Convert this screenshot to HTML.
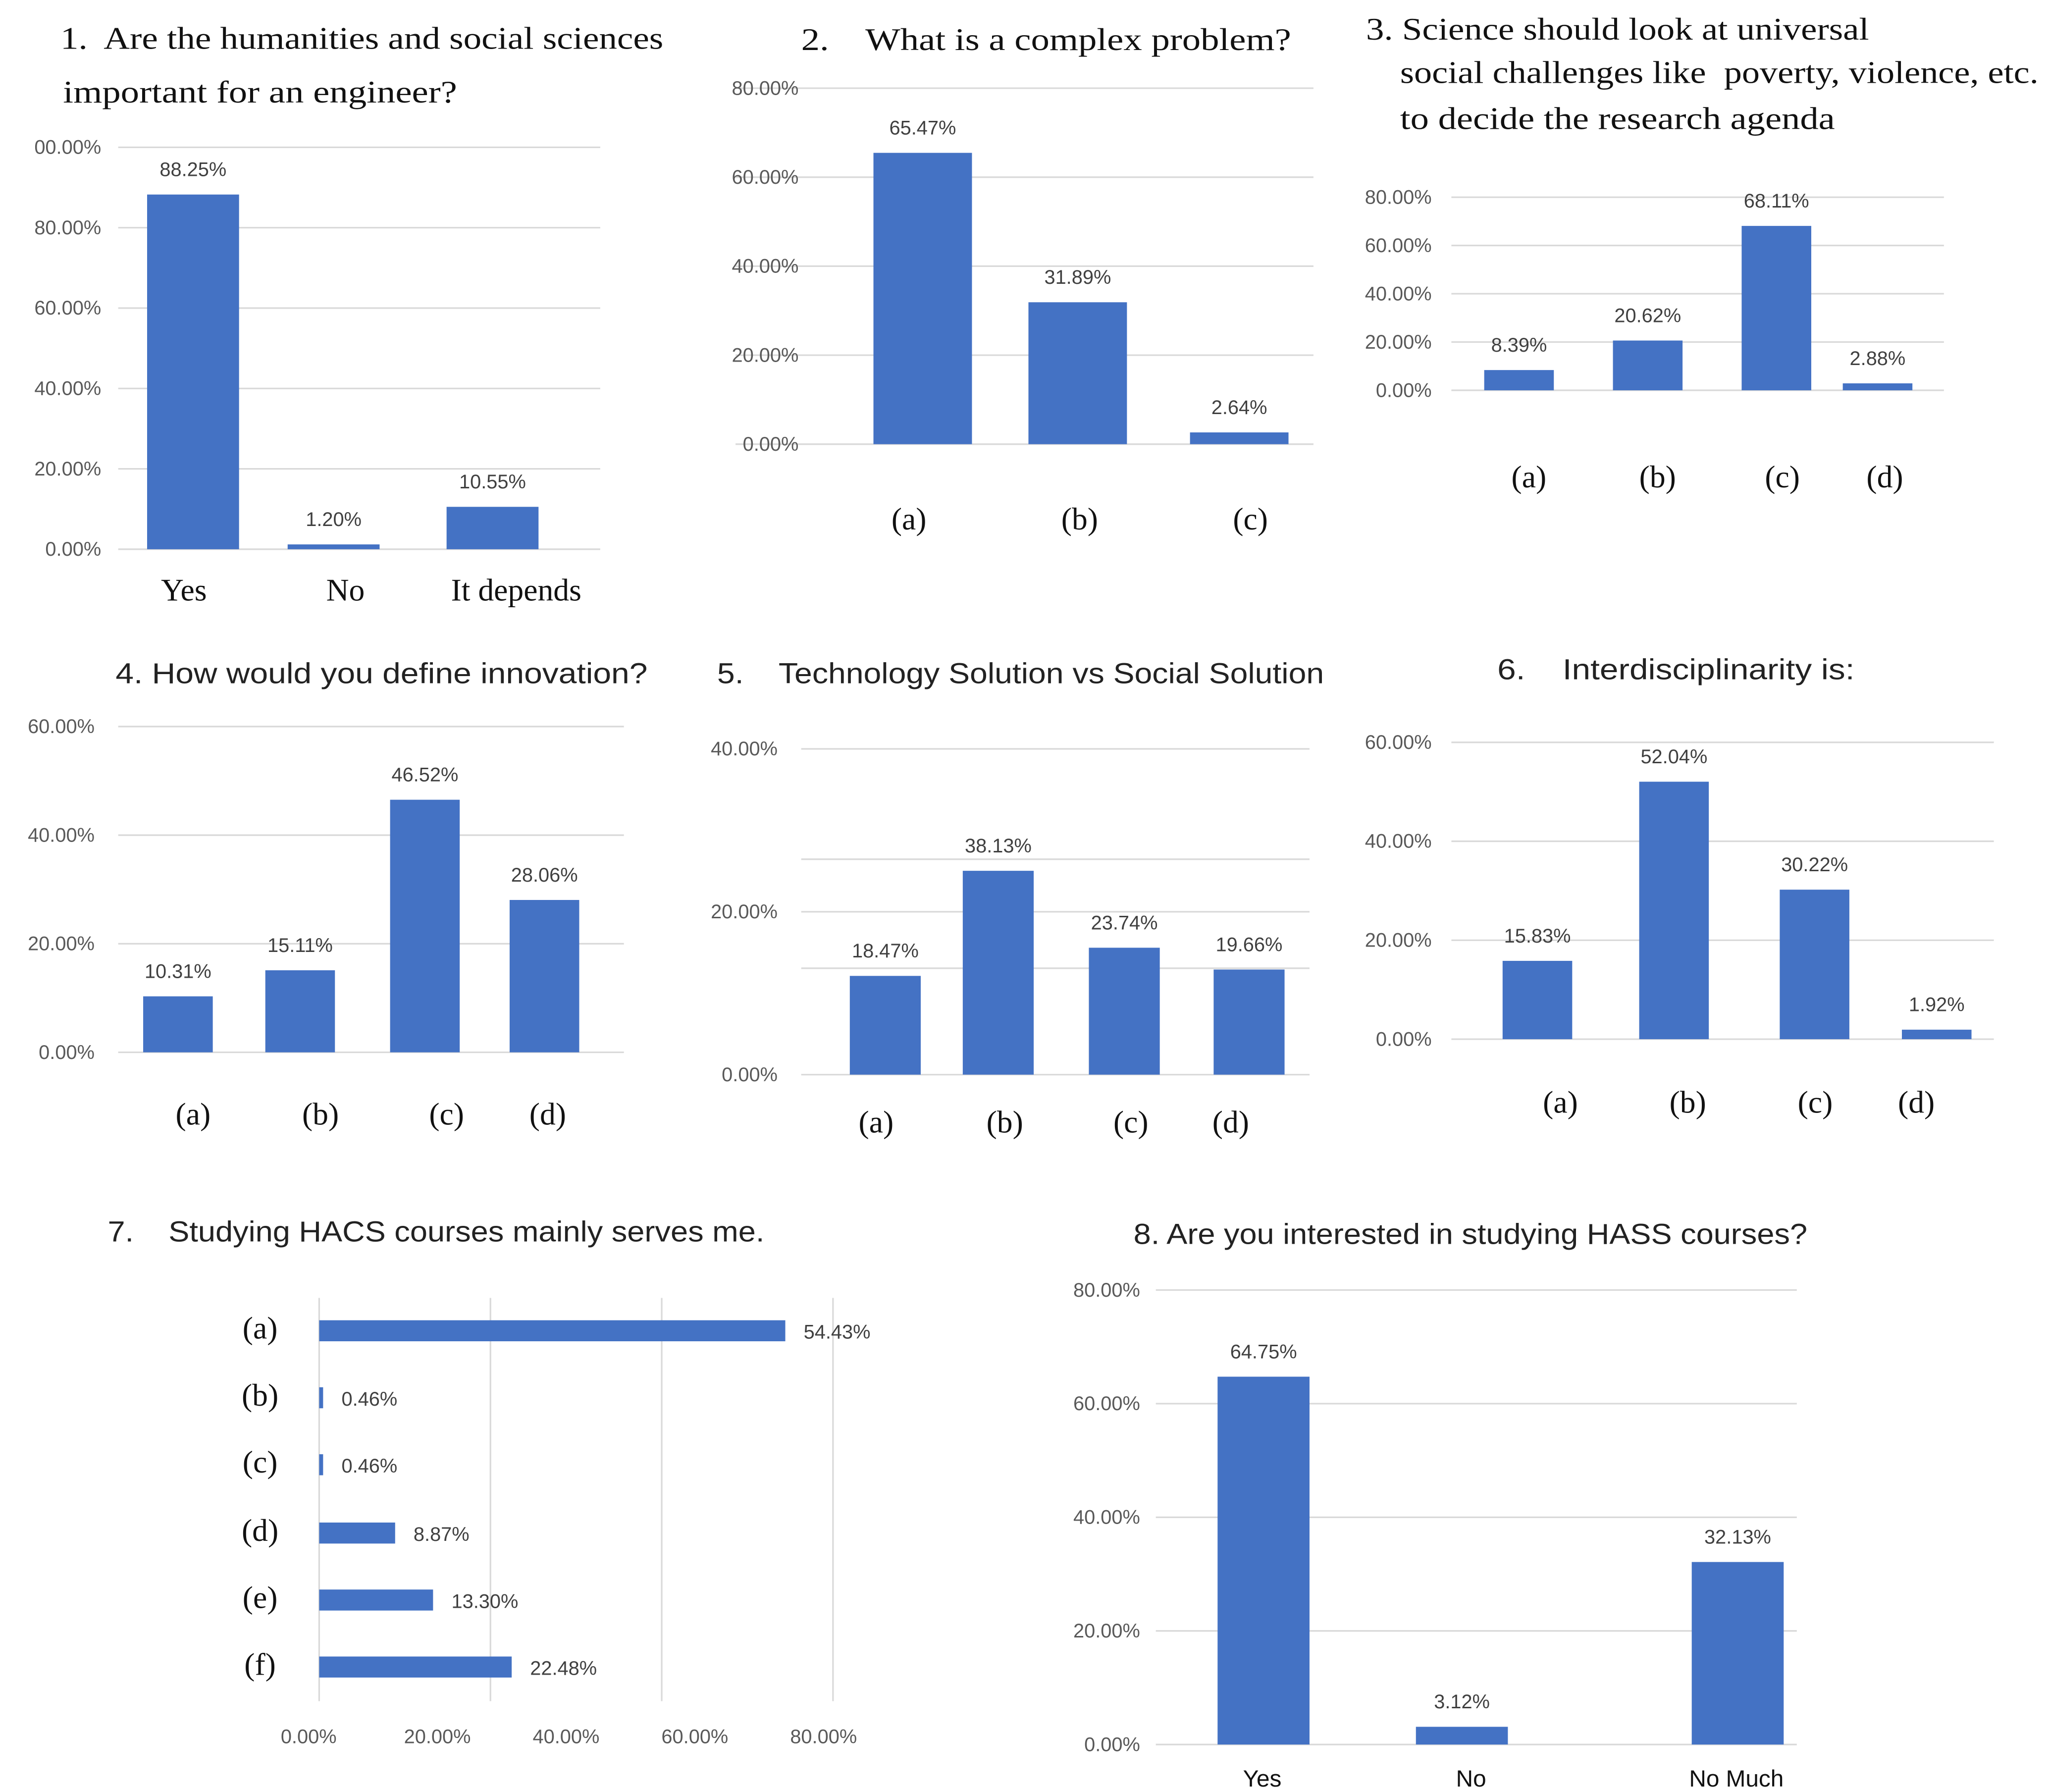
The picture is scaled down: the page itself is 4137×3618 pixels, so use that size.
<!DOCTYPE html>
<html><head><meta charset="utf-8"><title>Survey charts</title>
<style>
html,body{margin:0;padding:0;background:#fff;}
svg{display:block;}
.serif{font-family:"Liberation Serif",serif;fill:#111;}
.sans{font-family:"Liberation Sans",sans-serif;}
.ttl{white-space:pre;}
.tick{font-family:"Liberation Sans",sans-serif;font-size:15px;fill:#595959;}
.val{font-family:"Liberation Sans",sans-serif;font-size:15px;fill:#404040;}
</style></head>
<body>
<svg id="root" width="4137" height="3618" viewBox="0 0 1560 1364" xmlns="http://www.w3.org/2000/svg">
<rect width="1560" height="1364" fill="#fff"/>
<g>
<text class="serif ttl" x="46" y="37" font-size="24" textLength="459" lengthAdjust="spacingAndGlyphs">1.  Are the humanities and social sciences</text>
<text class="serif ttl" x="48" y="78" font-size="24" textLength="300" lengthAdjust="spacingAndGlyphs">important for an engineer?</text>
<text class="serif ttl" x="610" y="38" font-size="24" textLength="373" lengthAdjust="spacingAndGlyphs">2.    What is a complex problem?</text>
<text class="serif ttl" x="1040" y="30" font-size="24" textLength="383" lengthAdjust="spacingAndGlyphs">3. Science should look at universal</text>
<text class="serif ttl" x="1066" y="63" font-size="24" textLength="486" lengthAdjust="spacingAndGlyphs">social challenges like  poverty, violence, etc.</text>
<text class="serif ttl" x="1066" y="98" font-size="24" textLength="331" lengthAdjust="spacingAndGlyphs">to decide the research agenda</text>
<text class="sans ttl" x="88" y="520" font-size="22" fill="#222" textLength="405" lengthAdjust="spacingAndGlyphs">4. How would you define innovation?</text>
<text class="sans ttl" x="546" y="520" font-size="22" fill="#222" textLength="462" lengthAdjust="spacingAndGlyphs">5.    Technology Solution vs Social Solution</text>
<text class="sans ttl" x="1140" y="517" font-size="22" fill="#222" textLength="272" lengthAdjust="spacingAndGlyphs">6.    Interdisciplinarity is:</text>
<text class="sans ttl" x="82" y="945" font-size="22" fill="#222" textLength="500" lengthAdjust="spacingAndGlyphs">7.    Studying HACS courses mainly serves me.</text>
<text class="sans ttl" x="863" y="947" font-size="22" fill="#222" textLength="513" lengthAdjust="spacingAndGlyphs">8. Are you interested in studying HASS courses?</text>
</g>
</svg>
<script>
// ---- data ----
const c1Cats = ["Yes","No","It depends"];
const c1Vals = [88.25,1.20,10.55];
const c1Ticks = [0,20,40,60,80,100];
const c1TickLabels = ["0.00%","20.00%","40.00%","60.00%","80.00%","00.00%"];
const c2Cats = ["(a)","(b)","(c)"];
const c2Vals = [65.47,31.89,2.64];
const c2Ticks = [0,20,40,60,80];
const c2TickLabels = ["0.00%","20.00%","40.00%","60.00%","80.00%"];
const c3Cats = ["(a)","(b)","(c)","(d)"];
const c3Vals = [8.39,20.62,68.11,2.88];
const c3Ticks = [0,20,40,60,80];
const c3TickLabels = ["0.00%","20.00%","40.00%","60.00%","80.00%"];
const c4Cats = ["(a)","(b)","(c)","(d)"];
const c4Vals = [10.31,15.11,46.52,28.06];
const c4Ticks = [0,20,40,60];
const c4TickLabels = ["0.00%","20.00%","40.00%","60.00%"];
const c5Cats = ["(a)","(b)","(c)","(d)"];
const c5Vals = [18.47,38.13,23.74,19.66];
const c5Ticks = [0,20,40];
const c5TickLabels = ["0.00%","20.00%","40.00%"];
const c6Cats = ["(a)","(b)","(c)","(d)"];
const c6Vals = [15.83,52.04,30.22,1.92];
const c6Ticks = [0,20,40,60];
const c6TickLabels = ["0.00%","20.00%","40.00%","60.00%"];
const c7Cats = ["(a)","(b)","(c)","(d)","(e)","(f)"];
const c7Vals = [54.43,0.46,0.46,8.87,13.30,22.48];
const c7Ticks = [0,20,40,60,80];
const c7TickLabels = ["0.00%","20.00%","40.00%","60.00%","80.00%"];
const c8Cats = ["Yes","No","No Much"];
const c8Vals = [64.75,3.12,32.13];
const c8Ticks = [0,20,40,60,80];
const c8TickLabels = ["0.00%","20.00%","40.00%","60.00%","80.00%"];

const NS="http://www.w3.org/2000/svg";
const root=document.getElementById('root');
const BLUE="#4472c4", GRID="#d9d9d9";
function mk(tag,attrs,parent){const e=document.createElementNS(NS,tag);for(const k in attrs)e.setAttribute(k,attrs[k]);parent.appendChild(e);return e;}

function vchart(o){
  const g=mk('g',{},root);
  
  
  const y=v=>o.y0-(v/o.vmax)*(o.y0-o.ytop);
  const yb=v=>o.y0-v*(o.barScale||((o.y0-o.ytop)/o.vmax));
  (o.extraGrid||[]).forEach(py=>{
    const l=mk('line',{x1:o.gx0,x2:o.gx1,y1:py,y2:py,stroke:GRID,'stroke-width':1.2},g);
    
    
  });
  o.ticks.forEach((t,i)=>{
    const py=y(t);
    const l=mk('line',{x1:o.gx0,x2:o.gx1,y1:py,y2:py,stroke:GRID,'stroke-width':1.2},g);
    
    
    const tx=mk('text',{x:o.tx,y:py+5,'text-anchor':'end',class:'tick'},g);
    tx.textContent=o.tickLabels[i];
    
    
  });
  o.cats.forEach((c,i)=>{
    const v=o.vals[i], x=o.barX[i], w=o.barW;
    const top=yb(v);
    const r=mk('rect',{x:x,y:top,width:w,height:o.y0-top,fill:BLUE},g);
    
    
    const vt=mk('text',{x:x+w/2,y:top-14,'text-anchor':'middle',class:'val'},g);
    vt.textContent=v.toFixed(2)+'%';
    
    
    const ct=mk('text',{x:o.catX[i],y:o.catY,'text-anchor':'middle',class:o.catClass||'serif','font-size':o.catSize||24,fill:'#111'},g);
    ct.textContent=c;
    
    
  });
}

vchart({name:'chart1',cats:c1Cats,vals:c1Vals,ticks:c1Ticks,tickLabels:c1TickLabels,vmax:100,y0:418,ytop:112,gx0:90,gx1:457,tx:77,barX:[112,219,340],barW:70,catX:[140,263,393],catY:457});
vchart({name:'chart2',cats:c2Cats,vals:c2Vals,ticks:c2Ticks,tickLabels:c2TickLabels,vmax:80,y0:338,ytop:67,gx0:560,gx1:1000,tx:608,barX:[665,783,906],barW:75,catX:[692,822,952],catY:403});
vchart({name:'chart3',cats:c3Cats,vals:c3Vals,ticks:c3Ticks,tickLabels:c3TickLabels,vmax:80,y0:297,ytop:150,gx0:1105,gx1:1480,tx:1090,barX:[1130,1228,1326,1403],barW:53,catX:[1164,1262,1357,1435],catY:371});
vchart({name:'chart4',cats:c4Cats,vals:c4Vals,ticks:c4Ticks,tickLabels:c4TickLabels,vmax:60,y0:801,ytop:553,gx0:90,gx1:475,tx:72,barX:[109,202,297,388],barW:53,catX:[147,244,340,417],catY:856});
vchart({name:'chart5',cats:c5Cats,vals:c5Vals,ticks:c5Ticks,tickLabels:c5TickLabels,vmax:40,y0:818,ytop:570,barScale:4.07,extraGrid:[654,737],gx0:610,gx1:997,tx:592,barX:[647,733,829,924],barW:54,catX:[667,765,861,937],catY:862});
vchart({name:'chart6',cats:c6Cats,vals:c6Vals,ticks:c6Ticks,tickLabels:c6TickLabels,vmax:60,y0:791,ytop:565,gx0:1105,gx1:1518,tx:1090,barX:[1144,1248,1355,1448],barW:53,catX:[1188,1285,1382,1459],catY:847});
vchart({name:'chart8',cats:c8Cats,vals:c8Vals,ticks:c8Ticks,tickLabels:c8TickLabels,vmax:80,y0:1328,ytop:982,gx0:880,gx1:1368,tx:868,barX:[927,1078,1288],barW:70,catX:[961,1120,1322],catY:1360,catClass:'sans',catSize:18});

// chart 7 horizontal
(function(){
  const g=mk('g',{},root);
  
  
  const x0=243, pxPer=6.52;
  const x=v=>x0+v*pxPer;
  const tickLabelX=[235,333,431,529,627];
  const rowY=[1013,1064,1115,1167,1218,1269];
  c7Ticks.forEach((t,i)=>{
    if(x(t)<=700){
      const l=mk('line',{x1:x(t),x2:x(t),y1:988,y2:1295,stroke:GRID,'stroke-width':1.2},g);
      
      
    }
    const tx=mk('text',{x:tickLabelX[i],y:1327,'text-anchor':'middle',class:'tick'},g);
    tx.textContent=c7TickLabels[i];
    
    
  });
  c7Cats.forEach((c,i)=>{
    const v=c7Vals[i], cy=rowY[i];
    const w=Math.max(x(v)-x0,1.5);
    const r=mk('rect',{x:x0,y:cy-8,width:w,height:16,fill:BLUE},g);
    
    
    const vt=mk('text',{x:x0+w+14,y:cy+6,class:'val'},g);
    vt.textContent=v.toFixed(2)+'%';
    
    
    const ct=mk('text',{x:198,y:cy+6,'text-anchor':'middle',class:'serif','font-size':24},g);
    ct.textContent=c;
    
    
  });
})();
</script>
</body></html>
